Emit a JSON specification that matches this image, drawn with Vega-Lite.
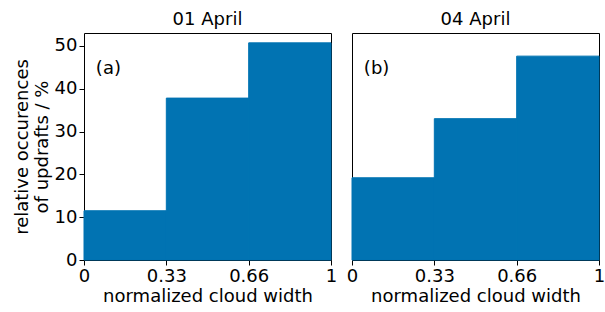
{
  "$schema": "https://vega.github.io/schema/vega-lite/v6.json",
  "padding": {"left": 12, "top": 10, "right": 0, "bottom": 0},
  "background": "white",
  "datasets": {
    "bars": [
      {"panel": "a", "x0": 0, "x1": 0.3333, "value": 11.5},
      {"panel": "a", "x0": 0.3333, "x1": 0.6667, "value": 37.8},
      {"panel": "a", "x0": 0.6667, "x1": 1, "value": 50.7},
      {"panel": "b", "x0": 0, "x1": 0.3333, "value": 19.2},
      {"panel": "b", "x0": 0.3333, "x1": 0.6667, "value": 33.0},
      {"panel": "b", "x0": 0.6667, "x1": 1, "value": 47.6}
    ],
    "labels": [
      {"panel": "a", "label": "(a)", "x": 0.048, "y": 44.5},
      {"panel": "b", "label": "(b)", "x": 0.048, "y": 44.5}
    ]
  },
  "spacing": 7,
  "hconcat": [
    {
      "width": 247,
      "height": 227,
      "title": {"text": "01 April"},
      "layer": [
        {
          "data": {"name": "bars"},
          "transform": [{"filter": "datum.panel == 'a'"}],
          "mark": {"type": "rect", "color": "#0173b2", "stroke": "#0173b2", "strokeWidth": 1},
          "encoding": {
            "x": {"field": "x0", "type": "quantitative", "scale": {"domain": [0, 1], "nice": false},
              "axis": {"title": "normalized cloud width", "titlePadding": 2, "values": [0, 0.3333, 0.6667, 1],
                "labelExpr": "datum.value == 0 ? '0' : datum.value == 1 ? '1' : datum.value < 0.5 ? '0.33' : '0.66'"}},
            "x2": {"field": "x1"},
            "y": {"field": "value", "type": "quantitative", "scale": {"domain": [0, 53], "nice": false},
              "axis": {"title": ["relative occurences", "of updrafts / %"], "titlePadding": 3, "values": [0, 10, 20, 30, 40, 50]}},
            "y2": {"datum": 0}
          }
        },
        {
          "data": {"name": "labels"},
          "transform": [{"filter": "datum.panel == 'a'"}],
          "mark": {"type": "text", "align": "left", "baseline": "middle", "fontSize": 18, "font": "DejaVu Sans", "color": "black"},
          "encoding": {
            "x": {"field": "x", "type": "quantitative"},
            "y": {"field": "y", "type": "quantitative"},
            "text": {"field": "label"}
          }
        }
      ]
    },
    {
      "width": 247,
      "height": 227,
      "title": {"text": "04 April"},
      "layer": [
        {
          "data": {"name": "bars"},
          "transform": [{"filter": "datum.panel == 'b'"}],
          "mark": {"type": "rect", "color": "#0173b2", "stroke": "#0173b2", "strokeWidth": 1},
          "encoding": {
            "x": {"field": "x0", "type": "quantitative", "scale": {"domain": [0, 1], "nice": false},
              "axis": {"title": "normalized cloud width", "titlePadding": 2, "values": [0, 0.3333, 0.6667, 1],
                "labelExpr": "datum.value == 0 ? '0' : datum.value == 1 ? '1' : datum.value < 0.5 ? '0.33' : '0.66'"}},
            "x2": {"field": "x1"},
            "y": {"field": "value", "type": "quantitative", "scale": {"domain": [0, 53], "nice": false}, "axis": null},
            "y2": {"datum": 0}
          }
        },
        {
          "data": {"name": "labels"},
          "transform": [{"filter": "datum.panel == 'b'"}],
          "mark": {"type": "text", "align": "left", "baseline": "middle", "fontSize": 18, "font": "DejaVu Sans", "color": "black"},
          "encoding": {
            "x": {"field": "x", "type": "quantitative"},
            "y": {"field": "y", "type": "quantitative"},
            "text": {"field": "label"}
          }
        }
      ]
    }
  ],
  "config": {
    "font": "DejaVu Sans",
    "view": {"stroke": "black", "strokeWidth": 1},
    "title": {"fontSize": 18, "fontWeight": "normal", "font": "DejaVu Sans", "color": "black", "offset": 4},
    "axis": {
      "grid": false,
      "domain": false,
      "tickColor": "black",
      "tickSize": 5,
      "labelFont": "DejaVu Sans",
      "labelFontSize": 18,
      "labelColor": "black",
      "labelFlush": false,
      "labelPadding": 2,
      "titleFont": "DejaVu Sans",
      "titleFontSize": 18,
      "titleFontWeight": "normal",
      "titleColor": "black",
      "titlePadding": 4
    }
  }
}
